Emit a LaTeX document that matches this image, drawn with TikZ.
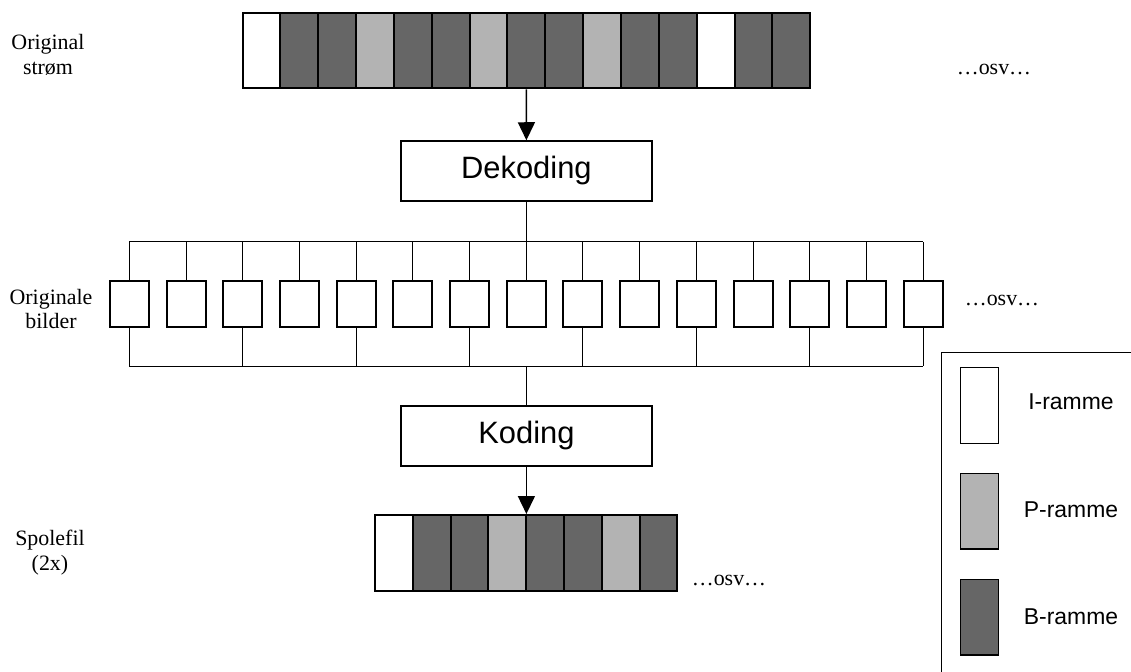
\documentclass[tikz,border=0pt]{standalone}
\usepackage{fontspec}
\setmainfont{Liberation Serif}
\newfontfamily\arialfont{Liberation Sans}
\usetikzlibrary{arrows.meta}
\definecolor{bgray}{HTML}{666666}
\definecolor{pgray}{HTML}{B3B3B3}
\tikzset{
  cell/.style={draw, line width=2bp, inner sep=0pt, minimum width=37.85bp, minimum height=75.6bp},
  bilde/.style={draw, line width=2bp, fill=white, inner sep=0pt, minimum width=39bp, minimum height=45.7bp},
  prosess/.style={draw, line width=1.5bp, inner sep=0pt, minimum width=251bp, minimum height=60bp, font=\arialfont\fontsize{31}{36}\selectfont},
  lbl/.style={align=center, inner sep=0pt, font=\fontsize{22}{25}\selectfont},
  forkl/.style={inner sep=0pt, font=\arialfont\fontsize{23}{27}\selectfont},
  buss/.style={line width=0.9bp},
  pil/.style={line width=1.5bp, -{Triangle[width=17bp,length=18bp]}},
}
\begin{document}
\begin{tikzpicture}[x=1bp, y=-1bp]
\useasboundingbox (0,0) rectangle (1131,672);
\clip (0,0) rectangle (1131,672);

% original stream
\foreach \c [count=\i] in {white,bgray,bgray,pgray,bgray,bgray,pgray,bgray,bgray,pgray,bgray,bgray,white,bgray,bgray}
  \node[cell, fill=\c] (s\i) at ({242.5+37.85*(\i-0.5)}, 50.5) {};
\node[lbl] (orig) at (48,55) {Original\\strøm};
\node[lbl] (osv1) at (994,69) {…osv…};

\node[prosess] (dek) at (526.4,171) {Dekoding};
\draw[pil] (s8.south) -- (dek.north);

% original frames
\foreach \k in {1,...,15}
  \node[bilde] (f\k) at ({129.3+56.7*(\k-1)}, 303.85) {};
\coordinate (bt) at (526.4,241.7);
\coordinate (bb) at (526.4,366);
\draw[buss] (f1.north |- bt) -- (f15.north |- bt);
\foreach \k in {1,...,15}
  \draw[buss] (f\k.north) -- (f\k.north |- bt);
\draw[buss] (f1.south |- bb) -- (f15.south |- bb);
\foreach \k in {1,3,...,15}
  \draw[buss] (f\k.south) -- (f\k.south |- bb);
\draw[line width=1.5bp] (dek.south) -- (bt);
\node[lbl] (origb) at (51,309) {Originale\\bilder};
\node[lbl] (osv2) at (1002,300) {…osv…};

\node[prosess] (kod) at (526.4,435.8) {Koding};
\draw[line width=1.5bp] (bb) -- (kod.north);

% spool file
\foreach \c [count=\i] in {white,bgray,bgray,pgray,bgray,bgray,pgray,bgray}
  \node[cell, fill=\c] (b\i) at ({375+37.8*(\i-0.5)}, 552.8) {};
\draw[pil] (kod.south) -- (kod.south |- b4.north);
\node[lbl] (spole) at (50,553) {Spolefil\\(2x)};
\node[lbl] (osv3) at (729,580) {…osv…};

% legend
\draw[line width=1.5bp] (941.7,352.7) rectangle (1150,690);
\node[cell, line width=1.5bp, minimum width=37.6bp, fill=white] (li) at (979.5,405.5) {};
\node[cell, line width=1.5bp, minimum width=37.6bp, fill=pgray] (lp) at (979.5,511.3) {};
\node[cell, line width=1.5bp, minimum width=37.6bp, fill=bgray] (lb) at (979.5,617.2) {};
\node[forkl] (ti) at (1071,402) {I-ramme};
\node[forkl] (tp) at (1071,510) {P-ramme};
\node[forkl] (tb) at (1071,617) {B-ramme};
\end{tikzpicture}
\end{document}
